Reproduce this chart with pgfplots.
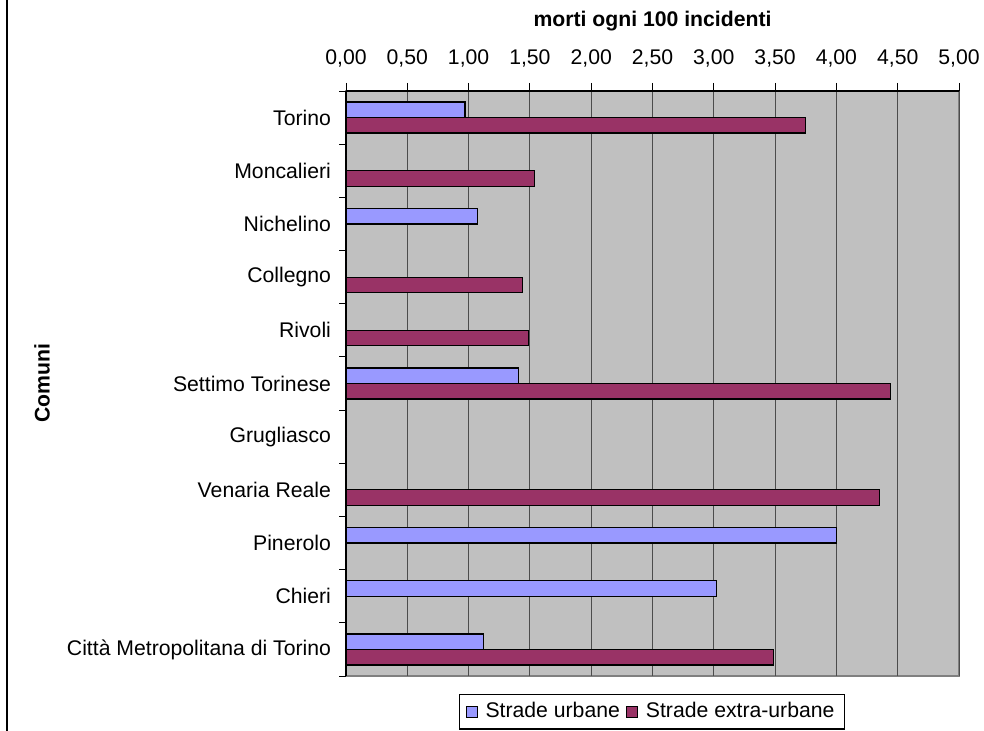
\documentclass[border=0pt]{standalone}
\usepackage{fontspec}
\setmainfont{Liberation Sans}
\usepackage{pgfplots}
\usepackage{pgfplotstable}
\pgfplotsset{compat=1.18}

\definecolor{urbane}{HTML}{9999FF}
\definecolor{extraurb}{HTML}{993366}
\definecolor{plotbg}{HTML}{C0C0C0}
\definecolor{plotframe}{HTML}{808080}

% morti ogni 100 incidenti, 0 = Torino ... 10 = Citta' Metropolitana
\pgfplotstableread{
idx urbane extra
0  0.97 3.75
1  0.00 1.54
2  1.07 0.00
3  0.00 1.44
4  0.00 1.49
5  1.41 4.44
6  0.00 0.00
7  0.00 4.35
8  4.00 0.00
9  3.02 0.00
10 1.12 3.49
}\comuni

\begin{document}
\begin{tikzpicture}
\path[use as bounding box] (0,0) rectangle (492pt,-365.5pt);
\draw[line width=0.6pt] (3.5pt,0) -- (3.5pt,-365.5pt);
\begin{axis}[
    at={(173pt,-45.5pt)}, anchor=north west,
    scale only axis, width=306.5pt, height=292.5pt,
    font=\fontsize{10.6}{12.5}\selectfont,
    xbar, bar width=7.75pt,
    axis x line*=top, axis y line*=left,
    axis line style={black, line width=0.6pt},
    axis background/.style={fill=plotbg, draw=plotframe, line width=0.8pt},
    xmin=0, xmax=5, xtick={0,0.5,...,5},
    xticklabel style={yshift=4.5pt},
    xmajorgrids, grid style={black!70, line width=0.5pt},
    ymin=-0.5, ymax=10.5, y dir=reverse,
    ytick={0,...,10},
    yticklabels={Torino, Moncalieri, Nichelino, Collegno, Rivoli,
      Settimo Torinese, Grugliasco, Venaria Reale, Pinerolo, Chieri,
      Città Metropolitana di Torino},
    minor ytick={-0.5,0.5,...,10.5},
    major y tick style={draw=none},
    tick align=outside, major tick length=4pt, minor tick length=3.5pt,
    tick style={black, line width=0.5pt},
    /pgf/number format/.cd, use comma, fixed, fixed zerofill, precision=2,
      assume math mode=true,
    /pgfplots/.cd,
    xlabel={\bfseries morti ogni 100 incidenti},
    xlabel style={at={(axis description cs:0.5,1)}, anchor=base, yshift=32pt},
    ylabel={\bfseries Comuni},
    ylabel style={at={(axis description cs:-0.4959,0.5)}, anchor=center},
    legend style={at={(0.1843,-0.0308)}, anchor=north west,
      draw=black, line width=0.6pt, legend columns=2,
      font=\fontsize{10.6}{12.5}\selectfont,
      /tikz/every odd column/.append style={column sep=2pt},
      /tikz/every even column/.append style={column sep=1pt}},
    legend image code/.code={\draw[#1, line width=0.5pt] (0pt,-2.75pt) rectangle (5.5pt,2.75pt);},
]
\addplot[fill=urbane, draw=black, line width=0.6pt, bar shift=3.875pt]
  table[x=urbane, y=idx] {\comuni};
\addplot[fill=extraurb, draw=black, line width=0.6pt, bar shift=-3.875pt]
  table[x=extra, y=idx] {\comuni};
\legend{Strade urbane, Strade extra-urbane}
\end{axis}
\end{tikzpicture}
\end{document}
